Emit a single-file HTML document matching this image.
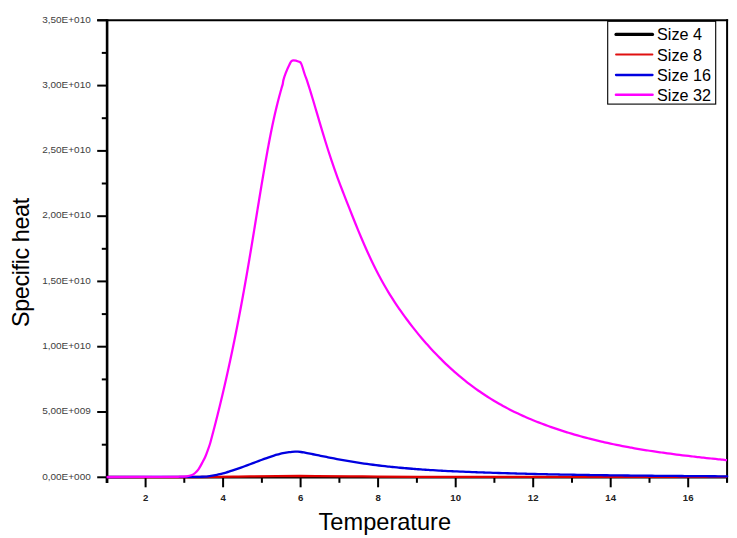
<!DOCTYPE html>
<html><head><meta charset="utf-8"><style>
html,body{margin:0;padding:0;background:#fff;}
body{width:737px;height:538px;overflow:hidden;}
svg{display:block;}
.ax{stroke:#000;stroke-width:2;}
.fr{fill:none;stroke:#000;stroke-width:2;}
.yl{font-family:"Liberation Sans",sans-serif;font-size:10px;fill:#404040;text-anchor:end;}
.xl{font-family:"Liberation Sans",sans-serif;font-size:9.6px;font-weight:bold;fill:#222;text-anchor:middle;}
.tt{font-family:"Liberation Sans",sans-serif;font-size:22px;fill:#000;}
.lg{font-family:"Liberation Sans",sans-serif;font-size:16.2px;fill:#000;}
</style></head><body>
<svg width="737" height="538" viewBox="0 0 737 538">
<rect width="737" height="538" fill="#fff"/>
<line x1="107.1" y1="19.3" x2="107.1" y2="483" stroke="#000" stroke-width="2.6"/><line x1="97.2" y1="20.3" x2="728.1" y2="20.3" stroke="#000" stroke-width="2"/><line x1="727.1" y1="19.3" x2="727.1" y2="482.5" stroke="#000" stroke-width="2"/>
<line x1="97.2" y1="477.3" x2="106.8" y2="477.3" class="ax"/><text transform="translate(90.8,479.60) scale(1,0.96)" class="yl">0,00E+000</text><line x1="101.8" y1="444.7" x2="106.8" y2="444.7" class="ax"/><line x1="97.2" y1="412.0" x2="106.8" y2="412.0" class="ax"/><text transform="translate(90.8,414.31) scale(1,0.96)" class="yl">5,00E+009</text><line x1="101.8" y1="379.4" x2="106.8" y2="379.4" class="ax"/><line x1="97.2" y1="346.7" x2="106.8" y2="346.7" class="ax"/><text transform="translate(90.8,349.03) scale(1,0.96)" class="yl">1,00E+010</text><line x1="101.8" y1="314.1" x2="106.8" y2="314.1" class="ax"/><line x1="97.2" y1="281.4" x2="106.8" y2="281.4" class="ax"/><text transform="translate(90.8,283.74) scale(1,0.96)" class="yl">1,50E+010</text><line x1="101.8" y1="248.8" x2="106.8" y2="248.8" class="ax"/><line x1="97.2" y1="216.2" x2="106.8" y2="216.2" class="ax"/><text transform="translate(90.8,218.46) scale(1,0.96)" class="yl">2,00E+010</text><line x1="101.8" y1="183.5" x2="106.8" y2="183.5" class="ax"/><line x1="97.2" y1="150.9" x2="106.8" y2="150.9" class="ax"/><text transform="translate(90.8,153.17) scale(1,0.96)" class="yl">2,50E+010</text><line x1="101.8" y1="118.2" x2="106.8" y2="118.2" class="ax"/><line x1="97.2" y1="85.6" x2="106.8" y2="85.6" class="ax"/><text transform="translate(90.8,87.89) scale(1,0.96)" class="yl">3,00E+010</text><line x1="101.8" y1="52.9" x2="106.8" y2="52.9" class="ax"/><line x1="97.2" y1="20.3" x2="106.8" y2="20.3" class="ax"/><text transform="translate(90.8,22.60) scale(1,0.96)" class="yl">3,50E+010</text><line x1="106.8" y1="477.3" x2="106.8" y2="482.8" class="ax"/><line x1="145.6" y1="477.3" x2="145.6" y2="487.3" class="ax"/><text x="145.6" y="501.2" class="xl">2</text><line x1="184.3" y1="477.3" x2="184.3" y2="482.8" class="ax"/><line x1="223.1" y1="477.3" x2="223.1" y2="487.3" class="ax"/><text x="223.1" y="501.2" class="xl">4</text><line x1="261.9" y1="477.3" x2="261.9" y2="482.8" class="ax"/><line x1="300.6" y1="477.3" x2="300.6" y2="487.3" class="ax"/><text x="300.6" y="501.2" class="xl">6</text><line x1="339.4" y1="477.3" x2="339.4" y2="482.8" class="ax"/><line x1="378.1" y1="477.3" x2="378.1" y2="487.3" class="ax"/><text x="378.1" y="501.2" class="xl">8</text><line x1="416.9" y1="477.3" x2="416.9" y2="482.8" class="ax"/><line x1="455.7" y1="477.3" x2="455.7" y2="487.3" class="ax"/><text x="455.7" y="501.2" class="xl">10</text><line x1="494.4" y1="477.3" x2="494.4" y2="482.8" class="ax"/><line x1="533.2" y1="477.3" x2="533.2" y2="487.3" class="ax"/><text x="533.2" y="501.2" class="xl">12</text><line x1="572.0" y1="477.3" x2="572.0" y2="482.8" class="ax"/><line x1="610.7" y1="477.3" x2="610.7" y2="487.3" class="ax"/><text x="610.7" y="501.2" class="xl">14</text><line x1="649.5" y1="477.3" x2="649.5" y2="482.8" class="ax"/><line x1="688.2" y1="477.3" x2="688.2" y2="487.3" class="ax"/><text x="688.2" y="501.2" class="xl">16</text><line x1="727.0" y1="477.3" x2="727.0" y2="482.8" class="ax"/>
<line x1="106" y1="477.3" x2="727" y2="477.3" stroke="#000" stroke-width="2.2"/>
<path d="M106.70,477.00 C122.25,477.00 176.12,477.10 200.00,477.00 C223.88,476.90 233.33,476.57 250.00,476.40 C266.67,476.23 283.33,476.02 300.00,476.00 C316.67,475.98 330.00,476.17 350.00,476.30 C370.00,476.43 357.17,476.70 420.00,476.80 C482.83,476.90 675.83,476.88 727.00,476.90" fill="none" stroke="#e00000" stroke-width="2.3"/>
<path d="M106.70,477.00 C121.08,476.98 177.62,476.93 193.00,476.90 C208.38,476.87 197.50,476.86 199.00,476.84 C200.50,476.81 201.00,476.81 202.00,476.76 C203.00,476.72 204.00,476.66 205.00,476.57 C206.00,476.49 207.00,476.39 208.00,476.27 C209.00,476.15 210.00,476.02 211.00,475.87 C212.00,475.72 213.00,475.55 214.00,475.36 C215.00,475.18 216.00,474.98 217.00,474.77 C218.00,474.56 219.00,474.33 220.00,474.09 C221.00,473.86 222.00,473.60 223.00,473.34 C224.00,473.08 225.00,472.80 226.00,472.52 C227.00,472.23 228.00,471.94 229.00,471.63 C230.00,471.33 231.00,471.01 232.00,470.69 C233.00,470.37 234.00,470.04 235.00,469.70 C236.00,469.36 237.00,469.02 238.00,468.67 C239.00,468.32 240.00,467.96 241.00,467.60 C242.00,467.24 243.00,466.87 244.00,466.50 C245.00,466.13 246.00,465.76 247.00,465.39 C248.00,465.01 249.00,464.63 250.00,464.25 C251.00,463.88 252.00,463.50 253.00,463.12 C254.00,462.74 255.00,462.36 256.00,461.98 C257.00,461.60 258.00,461.22 259.00,460.84 C260.00,460.47 261.00,460.09 262.00,459.72 C263.00,459.36 264.00,458.99 265.00,458.63 C266.00,458.27 267.00,457.91 268.00,457.57 C269.00,457.22 270.00,456.88 271.00,456.55 C272.00,456.22 273.00,455.90 274.00,455.59 C275.00,455.29 276.00,454.99 277.00,454.71 C278.00,454.43 279.00,454.16 280.00,453.90 C281.00,453.65 282.00,453.41 283.00,453.20 C284.00,452.98 285.00,452.77 286.00,452.60 C287.00,452.42 288.00,452.25 289.00,452.12 C290.00,451.98 291.00,451.87 292.00,451.79 C293.00,451.71 294.00,451.66 295.00,451.65 C296.00,451.63 297.00,451.65 298.00,451.70 C299.00,451.76 300.00,451.86 301.00,451.99 C302.00,452.11 303.00,452.28 304.00,452.45 C305.00,452.62 306.00,452.83 307.00,453.02 C308.00,453.22 309.00,453.43 310.00,453.63 C311.00,453.84 312.00,454.04 313.00,454.25 C314.00,454.45 315.00,454.65 316.00,454.86 C317.00,455.06 318.00,455.27 319.00,455.47 C320.00,455.67 321.00,455.88 322.00,456.08 C323.00,456.28 324.00,456.48 325.00,456.69 C326.00,456.89 327.00,457.09 328.00,457.29 C329.00,457.48 330.00,457.68 331.00,457.88 C332.00,458.07 333.00,458.27 334.00,458.46 C335.00,458.65 336.00,458.84 337.00,459.03 C338.00,459.22 339.00,459.41 340.00,459.59 C341.00,459.78 342.00,459.96 343.00,460.14 C344.00,460.32 345.00,460.50 346.00,460.67 C347.00,460.85 348.00,461.02 349.00,461.19 C350.00,461.35 351.00,461.52 352.00,461.68 C353.00,461.85 354.00,462.01 355.00,462.17 C356.00,462.33 357.00,462.48 358.00,462.63 C359.00,462.79 360.00,462.94 361.00,463.09 C362.00,463.23 363.00,463.38 364.00,463.52 C365.00,463.67 366.00,463.81 367.00,463.95 C368.00,464.09 369.00,464.22 370.00,464.36 C371.00,464.49 372.00,464.62 373.00,464.75 C374.00,464.88 375.00,465.01 376.00,465.13 C377.00,465.26 378.00,465.38 379.00,465.50 C380.00,465.62 381.00,465.74 382.00,465.85 C383.00,465.97 384.00,466.09 385.00,466.20 C386.00,466.31 387.00,466.42 388.00,466.53 C389.00,466.64 390.00,466.74 391.00,466.85 C392.00,466.95 393.00,467.05 394.00,467.15 C395.00,467.25 396.00,467.35 397.00,467.45 C398.00,467.54 399.00,467.64 400.00,467.73 C401.00,467.83 402.00,467.92 403.00,468.01 C404.00,468.10 405.00,468.18 406.00,468.27 C407.00,468.36 408.00,468.44 409.00,468.52 C410.00,468.61 411.00,468.69 412.00,468.77 C413.00,468.85 414.00,468.92 415.00,469.00 C416.00,469.08 417.00,469.15 418.00,469.23 C419.00,469.30 420.00,469.37 421.00,469.44 C422.00,469.51 423.00,469.58 424.00,469.65 C425.00,469.72 426.00,469.78 427.00,469.85 C428.00,469.91 429.00,469.98 430.00,470.04 C431.00,470.10 432.00,470.16 433.00,470.22 C434.00,470.28 435.00,470.34 436.00,470.40 C437.00,470.46 438.00,470.52 439.00,470.57 C440.00,470.63 441.00,470.68 442.00,470.74 C443.00,470.79 444.00,470.84 445.00,470.89 C446.00,470.94 447.00,470.99 448.00,471.04 C449.00,471.09 450.00,471.14 451.00,471.19 C452.00,471.24 453.00,471.28 454.00,471.33 C455.00,471.38 456.00,471.42 457.00,471.47 C458.00,471.51 459.00,471.55 460.00,471.60 C461.00,471.64 462.00,471.68 463.00,471.72 C464.00,471.76 465.00,471.80 466.00,471.85 C467.00,471.89 468.00,471.92 469.00,471.96 C470.00,472.00 471.00,472.04 472.00,472.08 C473.00,472.12 474.00,472.15 475.00,472.19 C476.00,472.23 477.00,472.26 478.00,472.30 C479.00,472.34 480.00,472.37 481.00,472.41 C482.00,472.44 483.00,472.48 484.00,472.51 C485.00,472.55 486.00,472.58 487.00,472.62 C488.00,472.65 489.00,472.68 490.00,472.72 C491.00,472.75 492.00,472.78 493.00,472.81 C494.00,472.85 495.00,472.88 496.00,472.91 C497.00,472.94 498.00,472.97 499.00,473.00 C500.00,473.04 501.00,473.07 502.00,473.10 C503.00,473.13 504.00,473.16 505.00,473.19 C506.00,473.22 507.00,473.25 508.00,473.27 C509.00,473.30 510.00,473.33 511.00,473.36 C512.00,473.39 513.00,473.42 514.00,473.45 C515.00,473.47 516.00,473.50 517.00,473.53 C518.00,473.55 519.00,473.58 520.00,473.61 C521.00,473.63 522.00,473.66 523.00,473.69 C524.00,473.71 525.00,473.74 526.00,473.76 C527.00,473.79 528.00,473.81 529.00,473.84 C530.00,473.86 531.00,473.89 532.00,473.91 C533.00,473.94 534.00,473.96 535.00,473.98 C536.00,474.01 537.00,474.03 538.00,474.05 C539.00,474.08 540.00,474.10 541.00,474.12 C542.00,474.14 543.00,474.17 544.00,474.19 C545.00,474.21 546.00,474.23 547.00,474.25 C548.00,474.27 549.00,474.30 550.00,474.32 C551.00,474.34 552.00,474.36 553.00,474.38 C554.00,474.40 555.00,474.42 556.00,474.44 C557.00,474.46 558.00,474.48 559.00,474.50 C560.00,474.52 561.00,474.54 562.00,474.56 C563.00,474.57 564.00,474.59 565.00,474.61 C566.00,474.63 567.00,474.65 568.00,474.67 C569.00,474.68 570.00,474.70 571.00,474.72 C572.00,474.74 573.00,474.75 574.00,474.77 C575.00,474.79 576.00,474.81 577.00,474.82 C578.00,474.84 579.00,474.86 580.00,474.87 C581.00,474.89 582.00,474.90 583.00,474.92 C584.00,474.94 585.00,474.95 586.00,474.97 C587.00,474.98 588.00,475.00 589.00,475.01 C590.00,475.03 591.00,475.04 592.00,475.06 C593.00,475.07 594.00,475.09 595.00,475.10 C596.00,475.12 597.00,475.13 598.00,475.14 C599.00,475.16 600.00,475.17 601.00,475.19 C602.00,475.20 603.00,475.21 604.00,475.23 C605.00,475.24 606.00,475.25 607.00,475.26 C608.00,475.28 609.00,475.29 610.00,475.30 C611.00,475.32 612.00,475.33 613.00,475.34 C614.00,475.35 615.00,475.37 616.00,475.38 C617.00,475.39 618.00,475.40 619.00,475.41 C620.00,475.42 621.00,475.44 622.00,475.45 C623.00,475.46 624.00,475.47 625.00,475.48 C626.00,475.49 627.00,475.50 628.00,475.52 C629.00,475.53 630.00,475.54 631.00,475.55 C632.00,475.56 633.00,475.57 634.00,475.58 C635.00,475.59 636.00,475.60 637.00,475.61 C638.00,475.62 639.00,475.63 640.00,475.64 C641.00,475.65 642.00,475.66 643.00,475.67 C644.00,475.68 645.00,475.69 646.00,475.70 C647.00,475.71 648.00,475.72 649.00,475.73 C650.00,475.74 651.00,475.75 652.00,475.76 C653.00,475.77 654.00,475.78 655.00,475.78 C656.00,475.79 657.00,475.80 658.00,475.81 C659.00,475.82 660.00,475.83 661.00,475.84 C662.00,475.85 663.00,475.86 664.00,475.86 C665.00,475.87 666.00,475.88 667.00,475.89 C668.00,475.90 669.00,475.91 670.00,475.92 C671.00,475.92 672.00,475.93 673.00,475.94 C674.00,475.95 675.00,475.96 676.00,475.96 C677.00,475.97 678.00,475.98 679.00,475.99 C680.00,476.00 681.00,476.01 682.00,476.01 C683.00,476.02 684.00,476.03 685.00,476.04 C686.00,476.05 687.00,476.05 688.00,476.06 C689.00,476.07 690.00,476.08 691.00,476.09 C692.00,476.09 693.00,476.10 694.00,476.11 C695.00,476.12 696.00,476.12 697.00,476.13 C698.00,476.14 699.00,476.15 700.00,476.16 C701.00,476.16 702.00,476.17 703.00,476.18 C704.00,476.19 705.00,476.19 706.00,476.20 C707.00,476.21 708.00,476.22 709.00,476.23 C710.00,476.23 711.00,476.24 712.00,476.25 C713.00,476.26 714.00,476.26 715.00,476.27 C716.00,476.28 717.00,476.29 718.00,476.30 C719.00,476.30 720.00,476.31 721.00,476.32 C722.00,476.33 723.00,476.33 724.00,476.34 C725.00,476.35 726.50,476.36 727.00,476.37 C727.50,476.37 727.00,476.37 727.00,476.37" fill="none" stroke="#0000e0" stroke-width="2.3" stroke-linejoin="round"/>
<path d="M106.70,477.00 C117.25,476.98 157.90,476.95 170.00,476.90 C182.10,476.85 176.52,476.80 179.30,476.70 C182.08,476.60 184.68,476.53 186.70,476.30 C188.72,476.07 190.00,475.85 191.40,475.30 C192.80,474.75 193.87,474.08 195.10,473.00 C196.33,471.92 197.57,470.58 198.80,468.80 C200.03,467.02 201.42,464.32 202.50,462.30 C203.58,460.28 204.37,458.87 205.30,456.70 C206.23,454.53 207.32,451.42 208.10,449.30 C208.88,447.18 209.46,445.55 209.95,444.00 C210.44,442.45 210.68,441.33 211.04,440.00 C211.40,438.67 211.76,437.33 212.11,436.00 C212.47,434.67 212.82,433.33 213.17,432.00 C213.52,430.67 213.87,429.33 214.22,428.00 C214.56,426.67 214.91,425.33 215.25,424.00 C215.59,422.67 215.94,421.33 216.27,420.00 C216.61,418.67 216.95,417.33 217.29,416.00 C217.62,414.67 217.95,413.33 218.28,412.00 C218.62,410.67 218.95,409.33 219.27,408.00 C219.60,406.67 219.93,405.33 220.25,404.00 C220.57,402.67 220.89,401.33 221.21,400.00 C221.53,398.67 221.85,397.33 222.17,396.00 C222.48,394.67 222.80,393.33 223.11,392.00 C223.42,390.67 223.73,389.33 224.04,388.00 C224.35,386.67 224.66,385.33 224.97,384.00 C225.27,382.67 225.57,381.33 225.88,380.00 C226.18,378.67 226.48,377.33 226.78,376.00 C227.08,374.67 227.37,373.33 227.67,372.00 C227.96,370.67 228.26,369.33 228.55,368.00 C228.84,366.67 229.13,365.33 229.42,364.00 C229.71,362.67 230.00,361.33 230.28,360.00 C230.57,358.67 230.85,357.33 231.14,356.00 C231.42,354.67 231.70,353.33 231.98,352.00 C232.26,350.67 232.54,349.33 232.82,348.00 C233.09,346.67 233.37,345.33 233.64,344.00 C233.92,342.67 234.19,341.33 234.46,340.00 C234.73,338.67 235.00,337.33 235.27,336.00 C235.54,334.67 235.80,333.33 236.07,332.00 C236.33,330.67 236.60,329.33 236.86,328.00 C237.12,326.67 237.38,325.33 237.64,324.00 C237.90,322.67 238.16,321.33 238.42,320.00 C238.68,318.67 238.93,317.33 239.19,316.00 C239.44,314.67 239.70,313.33 239.95,312.00 C240.20,310.67 240.45,309.33 240.70,308.00 C240.95,306.67 241.20,305.33 241.45,304.00 C241.70,302.67 241.94,301.33 242.19,300.00 C242.43,298.67 242.68,297.33 242.92,296.00 C243.16,294.67 243.40,293.33 243.65,292.00 C243.89,290.67 244.13,289.33 244.36,288.00 C244.60,286.67 244.84,285.33 245.08,284.00 C245.31,282.67 245.55,281.33 245.78,280.00 C246.02,278.67 246.25,277.33 246.48,276.00 C246.72,274.67 246.95,273.33 247.18,272.00 C247.41,270.67 247.64,269.33 247.87,268.00 C248.10,266.67 248.33,265.33 248.55,264.00 C248.78,262.67 249.01,261.33 249.23,260.00 C249.46,258.67 249.68,257.33 249.90,256.00 C250.13,254.67 250.35,253.33 250.57,252.00 C250.79,250.67 251.02,249.33 251.24,248.00 C251.46,246.67 251.68,245.33 251.90,244.00 C252.12,242.67 252.34,241.33 252.56,240.00 C252.78,238.67 252.99,237.33 253.21,236.00 C253.43,234.67 253.65,233.33 253.87,232.00 C254.08,230.67 254.30,229.33 254.52,228.00 C254.74,226.67 254.95,225.33 255.17,224.00 C255.39,222.67 255.60,221.33 255.82,220.00 C256.04,218.67 256.25,217.33 256.47,216.00 C256.69,214.67 256.90,213.33 257.12,212.00 C257.34,210.67 257.56,209.33 257.77,208.00 C257.99,206.67 258.21,205.33 258.43,204.00 C258.64,202.67 258.86,201.33 259.08,200.00 C259.30,198.67 259.52,197.33 259.74,196.00 C259.96,194.67 260.18,193.33 260.40,192.00 C260.62,190.67 260.84,189.33 261.06,188.00 C261.28,186.67 261.51,185.33 261.73,184.00 C261.95,182.67 262.18,181.33 262.40,180.00 C262.63,178.67 262.85,177.33 263.08,176.00 C263.31,174.67 263.53,173.33 263.76,172.00 C263.99,170.67 264.22,169.33 264.45,168.00 C264.68,166.67 264.91,165.33 265.14,164.00 C265.37,162.67 265.61,161.33 265.84,160.00 C266.08,158.67 266.31,157.33 266.55,156.00 C266.79,154.67 267.03,153.33 267.27,152.00 C267.51,150.67 267.75,149.33 268.00,148.00 C268.24,146.67 268.49,145.33 268.74,144.00 C268.99,142.67 269.24,141.33 269.50,140.00 C269.75,138.67 270.01,137.33 270.27,136.00 C270.53,134.67 270.79,133.33 271.06,132.00 C271.33,130.67 271.60,129.33 271.88,128.00 C272.15,126.67 272.43,125.33 272.71,124.00 C273.00,122.67 273.28,121.33 273.57,120.00 C273.87,118.67 274.16,117.33 274.46,116.00 C274.76,114.67 275.07,113.33 275.38,112.00 C275.69,110.67 276.01,109.33 276.33,108.00 C276.65,106.67 276.97,105.33 277.31,104.00 C277.64,102.67 277.98,101.33 278.32,100.00 C278.67,98.67 279.02,97.33 279.37,96.00 C279.73,94.67 280.09,93.33 280.46,92.00 C280.83,90.67 281.21,89.33 281.59,88.00 C281.98,86.67 282.46,85.32 282.76,84.00 C283.07,82.68 282.93,81.87 283.40,80.10 C283.87,78.33 284.58,76.00 285.60,73.40 C286.62,70.80 288.38,66.63 289.50,64.50 C290.62,62.37 290.72,61.07 292.30,60.60 C293.88,60.13 297.50,61.15 299.00,61.70 C300.50,62.25 300.37,61.85 301.30,63.90 C302.23,65.95 303.57,70.97 304.60,74.00 C305.63,77.03 306.52,79.12 307.50,82.05 C308.48,84.99 309.50,88.35 310.50,91.60 C311.50,94.85 312.50,98.18 313.50,101.52 C314.50,104.87 315.50,108.27 316.50,111.66 C317.50,115.04 318.50,118.46 319.50,121.83 C320.50,125.21 321.50,128.58 322.50,131.89 C323.50,135.21 324.50,138.49 325.50,141.71 C326.50,144.93 327.50,148.11 328.50,151.22 C329.50,154.33 330.50,157.40 331.50,160.39 C332.50,163.38 333.50,166.30 334.50,169.16 C335.50,172.01 336.50,174.78 337.50,177.51 C338.50,180.24 339.50,182.90 340.50,185.54 C341.50,188.18 342.50,190.76 343.50,193.35 C344.50,195.93 345.50,198.50 346.50,201.06 C347.50,203.62 348.50,206.17 349.50,208.71 C350.50,211.25 351.50,213.78 352.50,216.28 C353.50,218.79 354.50,221.28 355.50,223.75 C356.50,226.22 357.50,228.67 358.50,231.08 C359.50,233.50 360.50,235.90 361.50,238.25 C362.50,240.61 363.50,242.94 364.50,245.23 C365.50,247.53 366.50,249.78 367.50,252.00 C368.50,254.21 369.50,256.39 370.50,258.52 C371.50,260.65 372.50,262.73 373.50,264.77 C374.50,266.81 375.50,268.80 376.50,270.75 C377.50,272.71 378.50,274.62 379.50,276.49 C380.50,278.36 381.50,280.19 382.50,281.98 C383.50,283.78 384.50,285.53 385.50,287.25 C386.50,288.97 387.50,290.66 388.50,292.31 C389.50,293.97 390.50,295.58 391.50,297.18 C392.50,298.77 393.50,300.32 394.50,301.86 C395.50,303.39 396.50,304.89 397.50,306.37 C398.50,307.85 399.50,309.30 400.50,310.73 C401.50,312.15 402.50,313.56 403.50,314.94 C404.50,316.33 405.50,317.69 406.50,319.03 C407.50,320.38 408.50,321.70 409.50,323.01 C410.50,324.32 411.50,325.61 412.50,326.89 C413.50,328.16 414.50,329.42 415.50,330.67 C416.50,331.91 417.50,333.14 418.50,334.36 C419.50,335.57 420.50,336.77 421.50,337.95 C422.50,339.13 423.50,340.30 424.50,341.45 C425.50,342.61 426.50,343.75 427.50,344.87 C428.50,345.99 429.50,347.10 430.50,348.20 C431.50,349.29 432.50,350.37 433.50,351.44 C434.50,352.50 435.50,353.55 436.50,354.59 C437.50,355.63 438.50,356.65 439.50,357.66 C440.50,358.67 441.50,359.67 442.50,360.65 C443.50,361.64 444.50,362.61 445.50,363.56 C446.50,364.52 447.50,365.46 448.50,366.39 C449.50,367.32 450.50,368.24 451.50,369.15 C452.50,370.05 453.50,370.95 454.50,371.83 C455.50,372.71 456.50,373.57 457.50,374.43 C458.50,375.29 459.50,376.13 460.50,376.96 C461.50,377.79 462.50,378.61 463.50,379.42 C464.50,380.23 465.50,381.03 466.50,381.81 C467.50,382.60 468.50,383.37 469.50,384.14 C470.50,384.90 471.50,385.65 472.50,386.40 C473.50,387.14 474.50,387.87 475.50,388.59 C476.50,389.31 477.50,390.02 478.50,390.72 C479.50,391.42 480.50,392.10 481.50,392.78 C482.50,393.46 483.50,394.13 484.50,394.79 C485.50,395.45 486.50,396.10 487.50,396.74 C488.50,397.38 489.50,398.01 490.50,398.63 C491.50,399.25 492.50,399.86 493.50,400.47 C494.50,401.07 495.50,401.66 496.50,402.25 C497.50,402.83 498.50,403.41 499.50,403.98 C500.50,404.55 501.50,405.10 502.50,405.66 C503.50,406.21 504.50,406.75 505.50,407.28 C506.50,407.82 507.50,408.35 508.50,408.87 C509.50,409.38 510.50,409.90 511.50,410.40 C512.50,410.90 513.50,411.40 514.50,411.89 C515.50,412.38 516.50,412.86 517.50,413.34 C518.50,413.81 519.50,414.28 520.50,414.74 C521.50,415.20 522.50,415.66 523.50,416.11 C524.50,416.55 525.50,417.00 526.50,417.43 C527.50,417.87 528.50,418.30 529.50,418.72 C530.50,419.15 531.50,419.56 532.50,419.98 C533.50,420.39 534.50,420.79 535.50,421.19 C536.50,421.60 537.50,421.99 538.50,422.38 C539.50,422.77 540.50,423.16 541.50,423.54 C542.50,423.92 543.50,424.29 544.50,424.66 C545.50,425.04 546.50,425.40 547.50,425.76 C548.50,426.13 549.50,426.48 550.50,426.84 C551.50,427.19 552.50,427.54 553.50,427.88 C554.50,428.23 555.50,428.57 556.50,428.91 C557.50,429.24 558.50,429.58 559.50,429.91 C560.50,430.23 561.50,430.56 562.50,430.88 C563.50,431.20 564.50,431.52 565.50,431.83 C566.50,432.15 567.50,432.46 568.50,432.76 C569.50,433.07 570.50,433.37 571.50,433.67 C572.50,433.97 573.50,434.26 574.50,434.55 C575.50,434.84 576.50,435.13 577.50,435.42 C578.50,435.70 579.50,435.98 580.50,436.26 C581.50,436.54 582.50,436.81 583.50,437.08 C584.50,437.35 585.50,437.62 586.50,437.88 C587.50,438.14 588.50,438.40 589.50,438.66 C590.50,438.92 591.50,439.17 592.50,439.42 C593.50,439.67 594.50,439.92 595.50,440.17 C596.50,440.41 597.50,440.65 598.50,440.89 C599.50,441.13 600.50,441.36 601.50,441.59 C602.50,441.83 603.50,442.06 604.50,442.28 C605.50,442.51 606.50,442.73 607.50,442.95 C608.50,443.17 609.50,443.39 610.50,443.60 C611.50,443.82 612.50,444.03 613.50,444.24 C614.50,444.45 615.50,444.66 616.50,444.86 C617.50,445.07 618.50,445.27 619.50,445.47 C620.50,445.66 621.50,445.86 622.50,446.06 C623.50,446.25 624.50,446.44 625.50,446.63 C626.50,446.82 627.50,447.00 628.50,447.19 C629.50,447.37 630.50,447.56 631.50,447.73 C632.50,447.91 633.50,448.09 634.50,448.27 C635.50,448.44 636.50,448.61 637.50,448.79 C638.50,448.96 639.50,449.12 640.50,449.29 C641.50,449.46 642.50,449.62 643.50,449.78 C644.50,449.95 645.50,450.11 646.50,450.27 C647.50,450.43 648.50,450.58 649.50,450.74 C650.50,450.89 651.50,451.04 652.50,451.20 C653.50,451.35 654.50,451.50 655.50,451.64 C656.50,451.79 657.50,451.94 658.50,452.08 C659.50,452.22 660.50,452.37 661.50,452.51 C662.50,452.65 663.50,452.79 664.50,452.93 C665.50,453.06 666.50,453.20 667.50,453.34 C668.50,453.47 669.50,453.60 670.50,453.74 C671.50,453.87 672.50,454.00 673.50,454.13 C674.50,454.26 675.50,454.39 676.50,454.51 C677.50,454.64 678.50,454.77 679.50,454.89 C680.50,455.01 681.50,455.14 682.50,455.26 C683.50,455.38 684.50,455.50 685.50,455.62 C686.50,455.74 687.50,455.86 688.50,455.98 C689.50,456.10 690.50,456.22 691.50,456.33 C692.50,456.45 693.50,456.56 694.50,456.68 C695.50,456.79 696.50,456.91 697.50,457.02 C698.50,457.13 699.50,457.25 700.50,457.36 C701.50,457.47 702.50,457.58 703.50,457.69 C704.50,457.80 705.50,457.91 706.50,458.02 C707.50,458.13 708.50,458.24 709.50,458.34 C710.50,458.45 711.50,458.56 712.50,458.67 C713.50,458.77 714.50,458.88 715.50,458.99 C716.50,459.09 717.50,459.20 718.50,459.31 C719.50,459.41 720.50,459.52 721.50,459.62 C722.50,459.73 723.58,459.84 724.50,459.94 C725.42,460.04 726.58,460.16 727.00,460.20" fill="none" stroke="#ff00ff" stroke-width="2.25" stroke-linejoin="round"/>
<rect x="607.7" y="21.3" width="108" height="82.8" fill="#fff" stroke="#000" stroke-width="1.1"/>
<line x1="616" y1="34.4" x2="652.5" y2="34.4" stroke="#000" stroke-width="3.2" stroke-linecap="round"/>
<line x1="616" y1="54.5" x2="652.5" y2="54.5" stroke="#e01010" stroke-width="1.8" stroke-linecap="round"/>
<line x1="616" y1="75" x2="652.5" y2="75" stroke="#0000e0" stroke-width="2.3" stroke-linecap="round"/>
<line x1="616" y1="94.8" x2="652.5" y2="94.8" stroke="#ff00ff" stroke-width="2.6" stroke-linecap="round"/>
<text x="657" y="40.1" class="lg">Size 4</text>
<text x="657" y="60.5" class="lg">Size 8</text>
<text x="657" y="81" class="lg">Size 16</text>
<text x="657" y="100.8" class="lg">Size 32</text>
<text x="384.8" y="530.2" class="tt" text-anchor="middle" style="font-size:23.6px">Temperature</text>
<text transform="translate(29.4,262.6) rotate(-90)" class="tt" text-anchor="middle" style="font-size:23.4px;letter-spacing:-0.4px">Specific heat</text>
</svg>
</body></html>
